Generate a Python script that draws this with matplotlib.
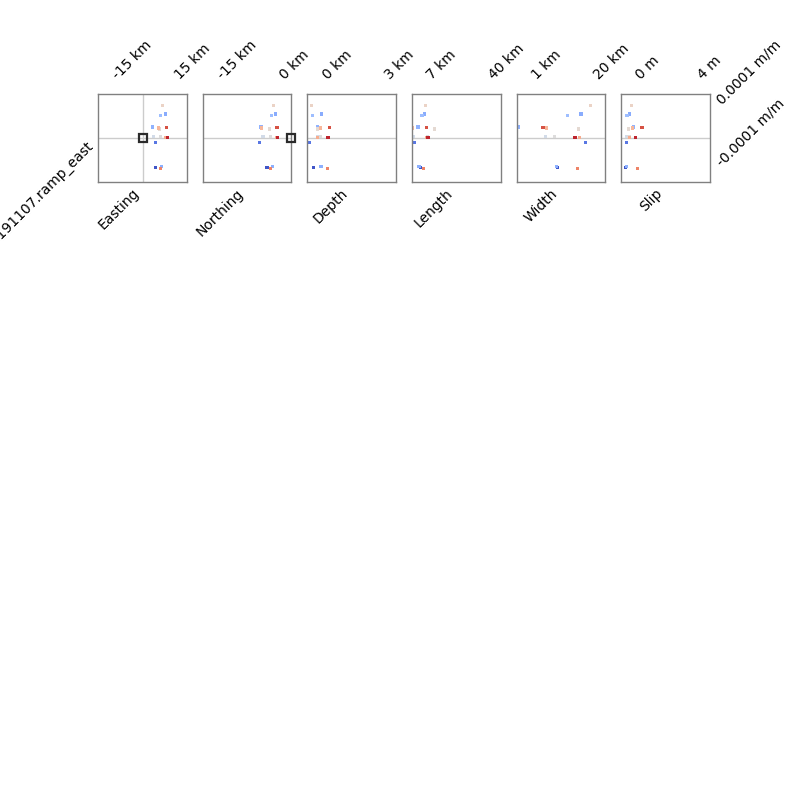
import matplotlib
matplotlib.use('Agg')
import matplotlib.pyplot as plt
import matplotlib.transforms as mtransforms

# one entry per sampled model
easting = [9.75, 8.9, 11.0, 4.7, 7.8, 8.1, 11.8, 5.5, 8.6, 12.1, 11.1, 6.2, 6.2, 9.1, 8.9]        # km
northing = [-1.07, -1.66, -0.69, -4.15, -4.08, -2.14, -0.28, -3.67, -1.8, -0.11, -0.4, -4.4, -2.7, -1.42, -1.8]  # km
depth = [-0.46, -0.41, 0.03, -0.15, -0.02, -0.17, 0.43, -0.15, 0.0, 0.35, -0.18, -0.54, -0.36, 0.01, 0.31]      # km
length = [6.96, 5.2, 6.43, 3.06, 0.24, 11.97, 7.5, 0.4, 7.9, 8.4, 7.87, 1.3, 4.5, 3.6, 6.1]     # km
width = [19.5, 12.57, 16.65, -2.58, 6.0, 16.0, 5.0, 5.8, 8.45, 14.8, 16.3, 18.1, 9.4, 9.0, 15.5]  # km
slip = [-0.17, -0.49, -0.34, -0.06, -0.15, -0.42, 0.48, -0.53, -0.36, 0.05, -0.3, -0.53, -0.6, -0.51, 0.18]  # m
ramp_east = [1.062e-4, 0.742e-4, 0.785e-4, 0.36e-4, 0.327e-4, 0.294e-4, 0.35e-4, 0.056e-4,
             0.056e-4, 0.023e-4, 0.016e-4, -0.141e-4, -0.971e-4, -0.938e-4, -1.004e-4]   # m/m
misfit = [0.56, 0.30, 0.24, 0.26, 0.67, 0.53, 0.90, 0.46, 0.50, 0.97, 0.70, 0.10, 0.02, 0.25, 0.80]

par_names = ['Easting', 'Northing', 'Depth', 'Length', 'Width', 'Slip']
par_units = ['km', 'km', 'km', 'km', 'km', 'm']
par_ticks = [(-15, 15), (-15, 0), (0, 3), (7, 40), (1, 20), (0, 4)]
par_ref = [0.0, 3.6, None, None, None, None]

y_name = '20191107.ramp_east'
y_ticks = (-0.0001, 0.0001)
y_ref = 0.0

xvalues = [easting, northing, depth, length, width, slip]

# draw order: low misfit first
order = sorted(range(len(misfit)), key=lambda i: misfit[i])

fig = plt.figure(figsize=(7.87, 7.87), dpi=100)
gs = fig.add_gridspec(1, 6, left=0.1249, right=0.9019, top=0.8802, bottom=0.7691, wspace=0.182)

shift = mtransforms.ScaledTranslation(9 / 100., 0, fig.dpi_scale_trans)


def tick_lims(t1, t2, frac=0.15):
    pad = frac / (1 - 2 * frac) * (t2 - t1)
    return t1 - pad, t2 + pad


for i, name in enumerate(par_names):
    ax = fig.add_subplot(gs[0, i])
    xs = [xvalues[i][k] for k in order]
    ys = [ramp_east[k] for k in order]
    cs = [misfit[k] for k in order]
    xlo, xhi = tick_lims(*par_ticks[i])

    ax.axhline(y_ref, color='#cccccc', lw=1, zorder=1)
    if par_ref[i] is not None:
        ax.axvline(par_ref[i], color='#cccccc', lw=1, zorder=1)
        # reference outside the range is pinned to the border
        xr = min(max(par_ref[i], xlo), xhi)
        ax.plot(xr, y_ref, 's', ms=6, mfc='none', mec='#2b2b2b', mew=1.6, zorder=3,
                clip_on=False)

    ax.scatter(xs, ys, c=cs, cmap='coolwarm', vmin=0, vmax=1, marker='s', s=5,
               linewidths=0, zorder=2)

    ax.set_xlim(xlo, xhi)
    ax.set_ylim(*tick_lims(*y_ticks))

    for sp in ax.spines.values():
        sp.set_color('#808080')
        sp.set_linewidth(1.0)

    ax.xaxis.tick_top()
    ax.set_xticks(par_ticks[i], ['%g %s' % (t, par_units[i]) for t in par_ticks[i]])
    ax.tick_params(axis='x', length=0, pad=9, labelsize=10)
    for lbl in ax.get_xticklabels():
        lbl.set_rotation(45)
        lbl.set_rotation_mode('anchor')
        lbl.set_ha('left')
        lbl.set_va('bottom')
        lbl.set_transform(lbl.get_transform() + shift)

    if i == len(par_names) - 1:
        ax.yaxis.tick_right()
        ax.set_yticks(y_ticks, ['%g m/m' % t for t in y_ticks])
        ax.tick_params(axis='y', length=0, pad=10.5, labelsize=10)
        for lbl in ax.get_yticklabels():
            lbl.set_rotation(45)
            lbl.set_rotation_mode('anchor')
            lbl.set_ha('left')
            lbl.set_va('bottom')
    else:
        ax.set_yticks([])

    ax.set_xlabel(name, fontsize=10, rotation=45, rotation_mode='anchor', ha='right', va='top')
    ax.xaxis.set_label_coords(0.38, -0.05)

    if i == 0:
        ax.set_ylabel(y_name, fontsize=10, rotation=45, rotation_mode='anchor',
                      ha='right', va='center')
        ax.yaxis.set_label_coords(-0.085, 0.432)

fig.savefig('out.png', dpi=100)
